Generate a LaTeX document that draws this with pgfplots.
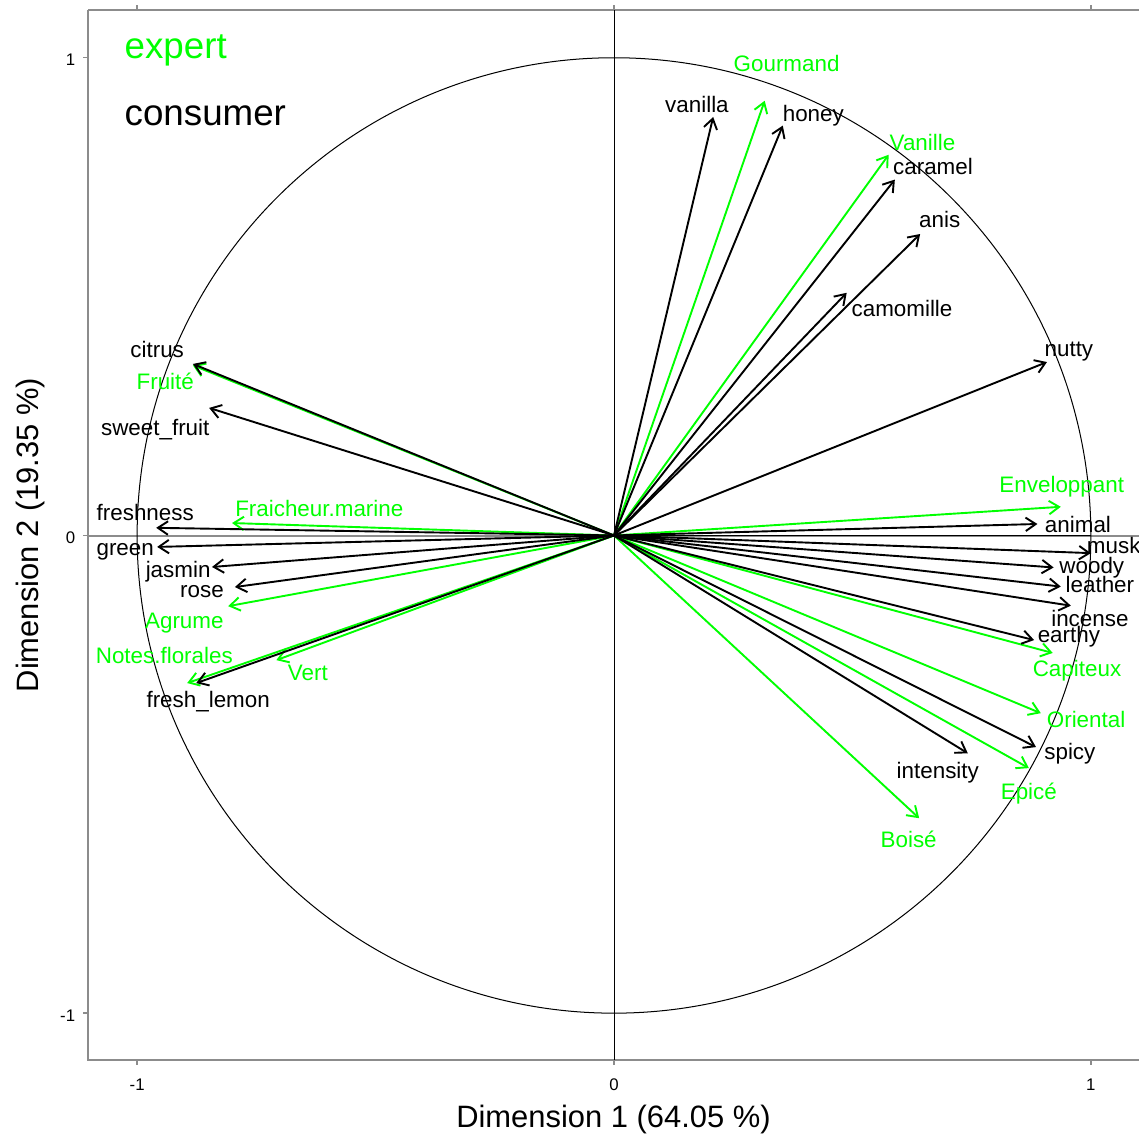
\documentclass[border=0pt]{standalone}
\usepackage{fontspec}
\setmainfont{Liberation Sans}
\usepackage{pgfplots}
\pgfplotsset{compat=1.18}
\usepackage{pgfplotstable}
\usetikzlibrary{arrows.meta}
\definecolor{axgrey}{gray}{0.55}
\definecolor{pgreen}{RGB}{0,255,0}

\pgfplotstableread{
x y u v
0 0 0.208 0.876
0 0 0.354 0.858
0 0 0.589 0.745
0 0 0.642 0.631
0 0 0.488 0.508
0 0 0.908 0.363
0 0 0.888 0.024
0 0 1.000 -0.037
0 0 0.922 -0.067
0 0 0.937 -0.107
0 0 0.958 -0.147
0 0 0.881 -0.219
0 0 0.885 -0.443
0 0 0.742 -0.456
0 0 -0.883 0.359
0 0 -0.849 0.267
0 0 -0.960 0.016
0 0 -0.958 -0.024
0 0 -0.843 -0.066
0 0 -0.795 -0.108
0 0 -0.876 -0.309
}\consumerarrows

\pgfplotstableread{
x y label
0.174 0.885 vanilla
0.418 0.866 honey
0.669 0.755 caramel
0.683 0.644 anis
0.604 0.458 camomille
0.954 0.374 nutty
0.973 0.007 animal
1.048 -0.037 musk
1.002 -0.079 woody
1.019 -0.120 leather
0.998 -0.190 incense
0.954 -0.225 earthy
0.956 -0.468 spicy
0.679 -0.508 intensity
-0.958 0.372 citrus
-0.962 0.210 sweet\_fruit
-0.983 0.032 freshness
-1.025 -0.041 green
-0.914 -0.087 jasmin
-0.864 -0.129 rose
-0.851 -0.361 fresh\_lemon
}\consumerlabels

\pgfplotstableread{
x y label
0.362 0.971 Gourmand
0.647 0.805 Vanille
0.939 0.089 Enveloppant
0.971 -0.296 Capiteux
0.990 -0.403 Oriental
0.870 -0.552 Epicé
0.618 -0.654 Boisé
-0.941 0.305 Fruité
-0.618 0.039 Fraicheur.marine
-0.901 -0.194 Agrume
-0.943 -0.269 Notes.florales
-0.642 -0.303 Vert
}\expertlabels

\pgfplotstableread{
x y u v
0 0 0.316 0.910
0 0 0.576 0.797
0 0 0.937 0.060
0 0 0.920 -0.246
0 0 0.895 -0.372
0 0 0.870 -0.487
0 0 0.640 -0.592
0 0 -0.883 0.356
0 0 -0.801 0.026
0 0 -0.809 -0.148
0 0 -0.895 -0.309
0 0 -0.708 -0.261
}\expertarrows

\begin{document}
\begin{tikzpicture}
\begin{axis}[
  scale only axis,
  width=469.2pt, height=468.75pt,
  xmin=-1.103, xmax=1.101, ymin=-1.098, ymax=1.1,
  axis line style={draw=none},
  clip=false,
  xtick={-1,0,1}, xticklabels={-1,0,1},
  ytick={-1,0,1}, yticklabels={-1,0,1},
  tick align=outside,
  major tick length=2.2pt,
  tick style={axgrey, line width=0.6pt},
  x tick label style={font=\fontsize{7.5}{9}\selectfont, text height=0.72em, text depth=0pt, yshift=-0.8pt},
  y tick label style={font=\fontsize{7.5}{9}\selectfont, text height=0.72em, text depth=0pt},
  xlabel={Dimension 1 (64.05 \%)},
  ylabel={Dimension 2 (19.35 \%)},
  xlabel style={at={(axis description cs:0.5,-0.0562)}, anchor=center, font=\fontsize{13.8}{16}\selectfont, text height=0.72em, text depth=0pt, inner sep=0pt},
  ylabel style={at={(axis description cs:-0.0552,0.5)}, anchor=center, font=\fontsize{13.8}{16}\selectfont, text height=0.72em, text depth=0pt, inner sep=0pt},
]
% frame
\draw[axgrey, line width=0.7pt] (rel axis cs:0,1) -- (rel axis cs:0,0) -- (rel axis cs:1,0);
\draw[axgrey, line width=0.7pt] (rel axis cs:0,1) -- (rel axis cs:1,1);
% zero lines
\draw[axgrey, line width=0.7pt] (rel axis cs:0,0.49918) -- (rel axis cs:1,0.49918);
\draw[black, line width=0.6pt] (axis cs:0,0) -- (axis cs:1,0);
\draw[black, line width=0.4pt] (axis cs:0,-1.098) -- (axis cs:0,1.1);
% circle
\draw[black, line width=0.45pt] (axis cs:0,0) ellipse [x radius=1, y radius=1];

\addplot[pgreen, line width=0.85pt, -{Straight Barb[length=4.5pt,width=6pt]},
  quiver={u=\thisrow{u}, v=\thisrow{v}}] table[x=x, y=y] {\expertarrows};
\addplot[black, line width=0.85pt, -{Straight Barb[length=4.5pt,width=6pt]},
  quiver={u=\thisrow{u}, v=\thisrow{v}}] table[x=x, y=y] {\consumerarrows};

\addplot[draw=none, mark=none, nodes near coords, point meta=explicit symbolic,
  nodes near coords style={anchor=base, inner sep=0pt, font=\fontsize{10}{12}\selectfont, text=pgreen}]
  table[x=x, y=y, meta=label] {\expertlabels};
\addplot[draw=none, mark=none, nodes near coords, point meta=explicit symbolic,
  nodes near coords style={anchor=base, inner sep=0pt, font=\fontsize{10}{12}\selectfont, text=black}]
  table[x=x, y=y, meta=label] {\consumerlabels};

\node[anchor=base west, inner sep=0pt, text=pgreen, font=\fontsize{16.4}{19}\selectfont] at (axis cs:-1.027,0.999) {expert};
\node[anchor=base west, inner sep=0pt, text=black, font=\fontsize{16.4}{19}\selectfont] at (axis cs:-1.027,0.858) {consumer};

\coordinate (SW) at (rel axis cs:0,0);
\coordinate (NE) at (rel axis cs:1,1);
\end{axis}
\pgfresetboundingbox
\path[use as bounding box] ([shift={(-39.29pt,-34.375pt)}]SW) rectangle ([shift={(0pt,4.46pt)}]NE);
\end{tikzpicture}
\end{document}
